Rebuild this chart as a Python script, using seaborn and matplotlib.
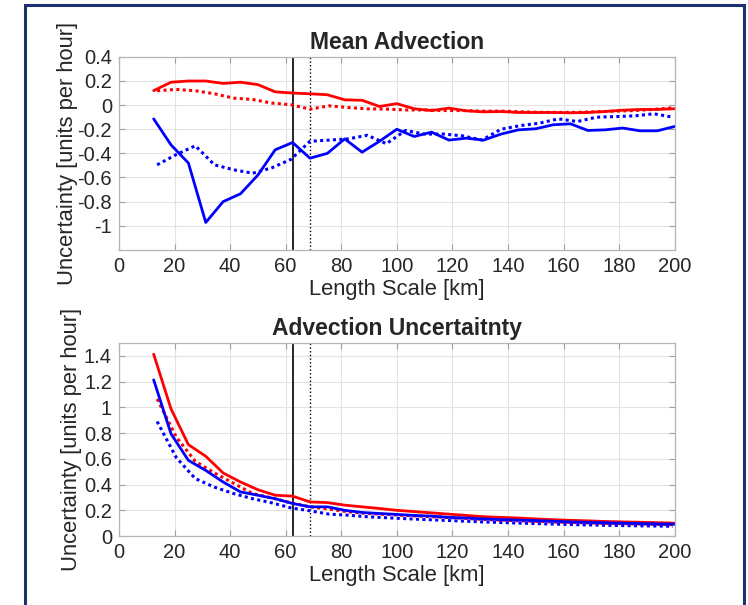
import matplotlib
matplotlib.use("Agg")
import matplotlib.pyplot as plt
import seaborn as sns
from matplotlib.patches import Rectangle
from matplotlib.ticker import FuncFormatter

# length scales (km): solid runs and dotted runs use different grids
x_solid = [12.5, 18.75, 25, 31.25, 37.5, 43.75, 50, 56.25, 62.5, 68.75, 75, 81.25,
           87.5, 93.75, 100, 106.25, 112.5, 118.75, 125, 131.25, 137.5, 143.75, 150,
           156.25, 162.5, 168.75, 175, 181.25, 187.5, 193.75, 200]
x_dotted = [13.75, 20.625, 27.5, 34.375, 41.25, 48.125, 55, 61.875, 68.75, 75.625,
            82.5, 89.375, 96.25, 103.125, 110, 116.875, 123.75, 130.625, 137.5,
            144.375, 151.25, 158.125, 165, 171.875, 178.75, 185.625, 192.5, 199.375]

# Mean Advection
mean_red_solid = [0.12, 0.19, 0.20, 0.20, 0.18, 0.19, 0.17, 0.11, 0.10, 0.094, 0.086,
                  0.044, 0.04, -0.011, 0.012, -0.03, -0.045, -0.025, -0.047, -0.056,
                  -0.053, -0.061, -0.061, -0.061, -0.064, -0.061, -0.053, -0.042,
                  -0.036, -0.036, -0.03]
mean_blue_solid = [-0.114, -0.33, -0.48, -0.973, -0.80, -0.735, -0.58, -0.37, -0.31,
                   -0.44, -0.40, -0.28, -0.39, -0.30, -0.20, -0.26, -0.224, -0.29,
                   -0.274, -0.29, -0.24, -0.205, -0.196, -0.163, -0.155, -0.21,
                   -0.205, -0.19, -0.213, -0.213, -0.177]
mean_red_dotted = [0.119, 0.13, 0.119, 0.094, 0.058, 0.047, 0.017, 0.003, -0.033,
                   -0.006, -0.02, -0.031, -0.033, -0.04, -0.04, -0.045, -0.045, -0.05,
                   -0.05, -0.055, -0.06, -0.06, -0.06, -0.055, -0.05, -0.045, -0.035,
                   -0.022]
mean_blue_dotted = [-0.495, -0.41, -0.337, -0.495, -0.536, -0.565, -0.52, -0.45, -0.30,
                    -0.29, -0.28, -0.25, -0.32, -0.21, -0.24, -0.24, -0.255, -0.29,
                    -0.20, -0.17, -0.15, -0.114, -0.136, -0.10, -0.095, -0.089,
                    -0.072, -0.10]

# Advection Uncertainty
unc_red_solid = [1.413, 0.988, 0.71, 0.62, 0.49, 0.42, 0.36, 0.317, 0.31, 0.265, 0.26,
                 0.24, 0.227, 0.214, 0.20, 0.19, 0.18, 0.17, 0.16, 0.15, 0.145, 0.14,
                 0.133, 0.127, 0.122, 0.118, 0.113, 0.11, 0.107, 0.104, 0.10]
unc_blue_solid = [1.214, 0.794, 0.588, 0.51, 0.42, 0.343, 0.317, 0.29, 0.253, 0.227,
                  0.227, 0.20, 0.183, 0.175, 0.168, 0.16, 0.155, 0.145, 0.14, 0.133,
                  0.128, 0.124, 0.12, 0.115, 0.11, 0.106, 0.103, 0.10, 0.097, 0.094,
                  0.092]
unc_red_dotted = [1.065, 0.77, 0.58, 0.49, 0.41, 0.33, 0.296, 0.258, 0.227, 0.209,
                  0.188, 0.175, 0.168, 0.16, 0.153, 0.145, 0.138, 0.13, 0.124, 0.118,
                  0.113, 0.108, 0.104, 0.10, 0.097, 0.094, 0.091, 0.088]
unc_blue_dotted = [0.89, 0.61, 0.446, 0.38, 0.33, 0.29, 0.258, 0.219, 0.196, 0.17,
                   0.162, 0.15, 0.142, 0.135, 0.128, 0.122, 0.116, 0.11, 0.105, 0.10,
                   0.096, 0.092, 0.088, 0.085, 0.082, 0.08, 0.078, 0.076]

solid_mark = 62.5
dotted_mark = 68.75

sns.set_style("ticks")
plt.rcParams['font.family'] = ['Liberation Sans', 'DejaVu Sans']

DOT = (0, (1, 1.1))


def mfmt(v, pos):
    s = '{:g}'.format(round(v, 3))
    return '0' if s == '-0' else s


def style_axes(ax, title, ylim, yticks):
    ax.set_xlim(0, 200)
    ax.set_ylim(*ylim)
    ax.set_xticks(range(0, 201, 20))
    ax.set_yticks(yticks)
    ax.xaxis.set_major_formatter(FuncFormatter(mfmt))
    ax.yaxis.set_major_formatter(FuncFormatter(mfmt))
    ax.grid(True, color='#e3e3e3', linewidth=0.8)
    ax.set_axisbelow(True)
    for sp in ax.spines.values():
        sp.set_visible(True)
        sp.set_color('#b5b5b5')
        sp.set_linewidth(0.9)
    ax.tick_params(direction='in', length=4, width=0.8, color='#a0a0a0',
                   top=True, right=True, labelsize=14.5, labelcolor='#262626', pad=5)
    ax.set_title(title, fontsize=16.5, fontweight='bold', pad=6)
    ax.set_xlabel('Length Scale [km]', fontsize=15.8, color='#262626', labelpad=2)
    ax.set_ylabel('Uncertainty [units per hour]', fontsize=15.8, color='#262626')


fig = plt.figure(figsize=(7.48, 6.05), dpi=100)
ax1 = fig.add_axes([0.159, 0.587, 0.743, 0.319])
ax2 = fig.add_axes([0.159, 0.114, 0.743, 0.319])

panels = [
    (ax1, mean_red_solid, mean_blue_solid, mean_red_dotted, mean_blue_dotted),
    (ax2, unc_red_solid, unc_blue_solid, unc_red_dotted, unc_blue_dotted),
]
for ax, rs, bs, rd, bd in panels:
    ax.axvline(solid_mark, color='black', linewidth=1.2)
    ax.axvline(dotted_mark, color='black', linewidth=1.0, linestyle=':')
    sns.lineplot(x=x_solid, y=rs, ax=ax, color='#ff0000', linewidth=2.0)
    sns.lineplot(x=x_dotted, y=rd, ax=ax, color='#ff0000', linewidth=2.2, linestyle=DOT)
    sns.lineplot(x=x_solid, y=bs, ax=ax, color='#0000ff', linewidth=2.0)
    sns.lineplot(x=x_dotted, y=bd, ax=ax, color='#0000ff', linewidth=2.2, linestyle=DOT)

style_axes(ax1, 'Mean Advection', (-1.2, 0.4), [-1, -0.8, -0.6, -0.4, -0.2, 0, 0.2, 0.4])
style_axes(ax2, 'Advection Uncertaitnty', (0, 1.5), [0, 0.2, 0.4, 0.6, 0.8, 1, 1.2, 1.4])
ax1.yaxis.set_label_coords(-0.074, 0.5)
ax2.yaxis.set_label_coords(-0.067, 0.5)

# navy frame of the screenshot
fig.patches.append(Rectangle((25 / 748, -0.05), (744 - 25) / 748, 1.05 - 5 / 605,
                             transform=fig.transFigure, fill=False,
                             edgecolor='#1c3170', linewidth=2.2))

fig.savefig('out.png', dpi=100)
